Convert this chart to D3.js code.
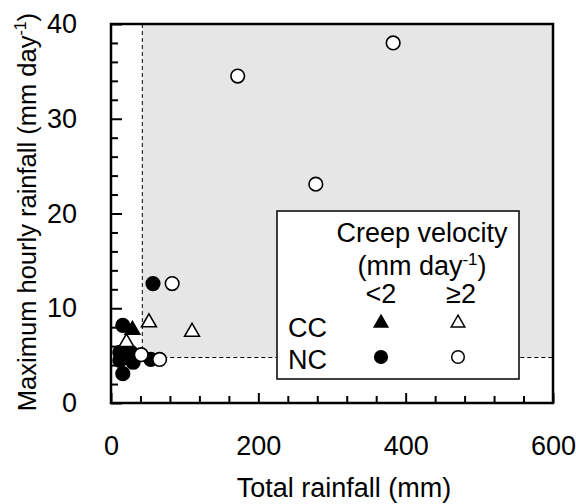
<!DOCTYPE html>
<html><head><meta charset="utf-8">
<script src="https://cdn.jsdelivr.net/npm/d3@7"></script>
<style>
html,body{margin:0;padding:0;background:#fff;}
text{font-family:"Liberation Sans",Arial,Helvetica,sans-serif;fill:#000;}
</style></head>
<body>
<svg id="chart" width="576" height="504"></svg>
<script>
// ---- data ----
const xTicksMajor = [0, 200, 400, 600];
const yTicksMajor = [0, 10, 20, 30, 40];
const thresholdX = 42.5;
const thresholdY = 4.8;

// NC, creep velocity < 2 (filled circles)
const ncLowX = [16, 57, 12, 27, 12, 30, 16, 54];
const ncLowY = [8.2, 12.6, 5.35, 5.35, 4.5, 4.3, 3.1, 4.6];
// CC, creep velocity < 2 (filled triangles)
const ccLowX = [29];
const ccLowY = [7.7];
// CC, creep velocity >= 2 (open triangles)
const ccHighX = [51.5, 110, 21];
const ccHighY = [8.5, 7.5, 6.4];
// NC, creep velocity >= 2 (open circles)
const ncHighX = [383, 172, 278, 83, 41, 66];
const ncHighY = [38, 34.5, 23.1, 12.6, 5.1, 4.6];

const svg = d3.select("#chart");
const L = 111, R = 553, T = 24, B = 403;
const x = d3.scaleLinear().domain([0, 600]).range([L, R]);
const y = d3.scaleLinear().domain([0, 40]).range([B, T]);

// shaded region
svg.append("rect")
  .attr("x", x(thresholdX)).attr("y", y(40))
  .attr("width", x(600) - x(thresholdX)).attr("height", y(thresholdY) - y(40))
  .attr("fill", "#e6e6e6");
svg.append("line")
  .attr("x1", x(thresholdX)).attr("x2", x(thresholdX))
  .attr("y1", y(40)).attr("y2", y(thresholdY))
  .attr("stroke", "#000").attr("stroke-width", 1).attr("stroke-dasharray", "4,3");
svg.append("line")
  .attr("x1", x(thresholdX)).attr("x2", x(600))
  .attr("y1", y(thresholdY)).attr("y2", y(thresholdY))
  .attr("stroke", "#000").attr("stroke-width", 1).attr("stroke-dasharray", "4,3");

// axes
const fs = 27;
const xMinor = d3.range(40, 600, 40).filter(v => v % 200 !== 0);
const yMinor = d3.range(2, 40, 2).filter(v => v % 10 !== 0);

const gxMinor = svg.append("g").attr("transform", `translate(0,${B})`)
  .call(d3.axisBottom(x).tickValues(xMinor).tickSize(-7).tickFormat(""));
const gx = svg.append("g").attr("transform", `translate(0,${B})`)
  .call(d3.axisBottom(x).tickValues(xTicksMajor).tickSize(-10).tickPadding(33).tickFormat(d3.format("d")));
const gyMinor = svg.append("g").attr("transform", `translate(${L},0)`)
  .call(d3.axisLeft(y).tickValues(yMinor).tickSize(-7).tickFormat(""));
const gy = svg.append("g").attr("transform", `translate(${L},0)`)
  .call(d3.axisLeft(y).tickValues(yTicksMajor).tickSize(-11).tickPadding(34).tickFormat(d3.format("d")));

[gx, gy, gxMinor, gyMinor].forEach(g => {
  g.select(".domain").remove();
  g.selectAll(".tick line").attr("stroke", "#000").attr("stroke-width", 2);
  g.selectAll("text").attr("font-size", fs).attr("font-family", '"Liberation Sans", Arial, sans-serif').attr("fill", "#000");
});

// frame
svg.append("rect").attr("x", L).attr("y", T).attr("width", R - L).attr("height", B - T)
  .attr("fill", "none").attr("stroke", "#000").attr("stroke-width", 2.5);

// markers
const r = 6.8;
const tri = d3.symbol().type(d3.symbolTriangle).size(95);
function circles(xs, ys, fill) {
  svg.append("g").selectAll("circle").data(xs.map((v, i) => [v, ys[i]])).join("circle")
    .attr("cx", d => x(d[0])).attr("cy", d => y(d[1])).attr("r", r)
    .attr("fill", fill).attr("stroke", "#000").attr("stroke-width", 1.6);
}
function triangles(xs, ys, fill) {
  svg.append("g").selectAll("path").data(xs.map((v, i) => [v, ys[i]])).join("path")
    .attr("d", tri).attr("transform", d => `translate(${x(d[0])},${y(d[1])})`)
    .attr("fill", fill).attr("stroke", "#000").attr("stroke-width", 1.6).attr("stroke-linejoin", "miter");
}
circles(ncLowX, ncLowY, "#000");
triangles(ccLowX, ccLowY, "#000");
triangles(ccHighX, ccHighY, "#fff");
circles(ncHighX, ncHighY, "#fff");

// axis titles
svg.append("text").attr("x", 344).attr("y", 497).attr("text-anchor", "middle")
  .attr("font-size", fs).text("Total rainfall (mm)");
const yt = svg.append("text").attr("transform", "translate(36,212) rotate(-90)")
  .attr("text-anchor", "middle").attr("font-size", 25.5);
yt.append("tspan").text("Maximum hourly rainfall (mm day");
yt.append("tspan").attr("font-size", 16).attr("dy", -10).text("-1");
yt.append("tspan").attr("dy", 10).text(")");

// legend
const lg = svg.append("g");
lg.append("rect").attr("x", 277).attr("y", 211).attr("width", 242).attr("height", 168)
  .attr("fill", "#fff").attr("stroke", "#000").attr("stroke-width", 1.5);
const lfs = 27;
lg.append("text").attr("x", 422).attr("y", 242).attr("text-anchor", "middle").attr("font-size", lfs).text("Creep velocity");
const l2 = lg.append("text").attr("x", 422).attr("y", 275).attr("text-anchor", "middle").attr("font-size", lfs);
l2.append("tspan").text("(mm day");
l2.append("tspan").attr("font-size", 17).attr("dy", -10).text("-1");
l2.append("tspan").attr("dy", 10).text(")");
lg.append("text").attr("x", 381).attr("y", 303).attr("text-anchor", "middle").attr("font-size", lfs).text("<2");
lg.append("text").attr("x", 461).attr("y", 303).attr("text-anchor", "middle").attr("font-size", lfs).text("≥2");
lg.append("text").attr("x", 288).attr("y", 337).attr("font-size", lfs).text("CC");
lg.append("text").attr("x", 288).attr("y", 369).attr("font-size", lfs).text("NC");
const legTri = d3.symbol().type(d3.symbolTriangle).size(80);
lg.append("path").attr("d", legTri).attr("transform", "translate(381,323)").attr("fill", "#000").attr("stroke", "#000").attr("stroke-width", 1.5);
lg.append("path").attr("d", legTri).attr("transform", "translate(458,323)").attr("fill", "#fff").attr("stroke", "#000").attr("stroke-width", 1.5);
lg.append("circle").attr("cx", 381).attr("cy", 357).attr("r", 6.3).attr("fill", "#000").attr("stroke", "#000").attr("stroke-width", 1.5);
lg.append("circle").attr("cx", 458).attr("cy", 357).attr("r", 6.3).attr("fill", "#fff").attr("stroke", "#000").attr("stroke-width", 1.5);
</script>
</body></html>
